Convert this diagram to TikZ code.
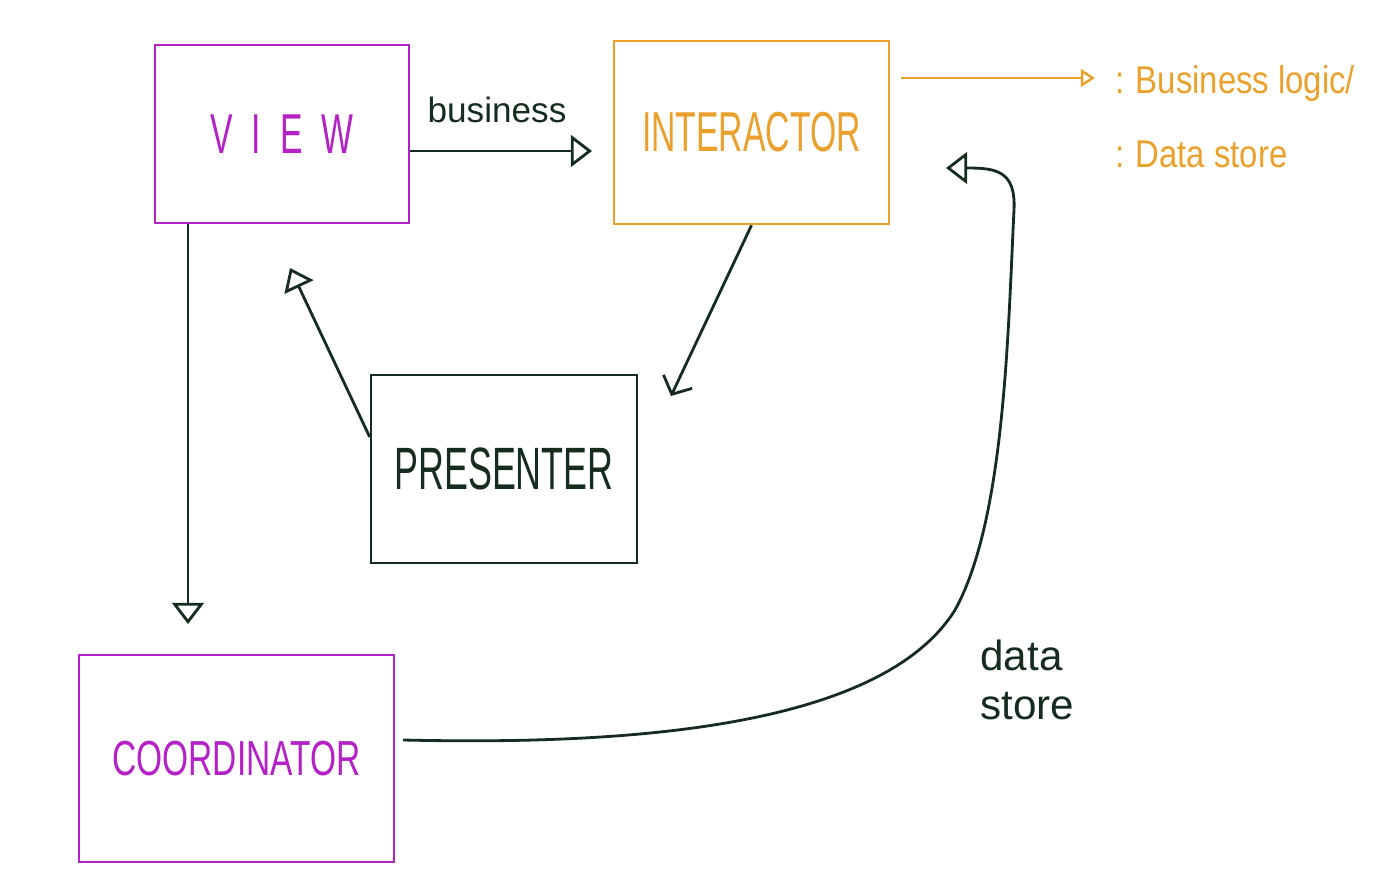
\documentclass[tikz,border=0pt]{standalone}
\usepackage{fontspec}
\setmainfont{Liberation Sans}
\usepackage{tikz}
\usetikzlibrary{arrows.meta,positioning}
\definecolor{sketchpurple}{RGB}{178,34,196}
\definecolor{sketchorange}{RGB}{234,160,45}
\definecolor{sketchink}{RGB}{22,44,30}
\newcommand{\squeeze}[2][0.6]{\scalebox{#1}[1]{#2}}
\tikzset{pbox/.style={draw=sketchpurple, line width=0.7pt, text=sketchpurple, align=center, inner sep=0pt, font=\fontsize{16}{18}\selectfont}, obox/.style={draw=sketchorange, line width=0.7pt, text=sketchorange, align=center, inner sep=0pt, font=\fontsize{16}{18}\selectfont}, kbox/.style={draw=sketchink, line width=0.7pt, text=sketchink, align=center, inner sep=0pt, font=\fontsize{17}{18}\selectfont}, edge/.style={-{Triangle[open,length=6pt,width=9pt]}, line width=0.8pt, draw=sketchink}, bedge/.style={-{Straight Barb[length=4pt,width=9pt]}, line width=0.8pt, draw=sketchink}, oedge/.style={-{Triangle[open,length=4pt,width=5pt]}, line width=0.7pt, draw=sketchorange}, note/.style={text=sketchink, align=left, font=\fontsize{12}{14}\selectfont}, onote/.style={text=sketchorange, anchor=west, inner sep=0pt, font=\fontsize{11}{13}\selectfont}}

\begin{document}
\begin{tikzpicture}[x=0.01cm,y=-0.01cm]
\useasboundingbox (0,0) rectangle (1400,891);
\node[pbox,minimum width=2.54cm,minimum height=1.78cm] (view) at (282,134) {\squeeze{V\hspace{9pt}I\hspace{9pt}E\hspace{9pt}W}};
\node[obox,minimum width=2.75cm,minimum height=1.83cm] (inter) at (751.5,132.5) {\squeeze{INTERACTOR}};
\node[kbox,minimum width=2.66cm,minimum height=1.88cm] (pres) at (504,469) {\squeeze{PRESENTER}};
\node[pbox,minimum width=3.15cm,minimum height=2.07cm,font=\fontsize{14}{16}\selectfont] (coord) at (236.5,758.5) {\squeeze[0.68]{COORDINATOR}};
\node[note,font=\fontsize{10}{12}\selectfont] (biz) at (497,110) {business};
\node[onote] (logic) at (1115,84) {\squeeze[0.85]{:\,\,Business logic/}};
\node[onote] (store) at (1115,154) {\squeeze[0.85]{:\,\,Data store}};
\node[note,anchor=west] (dstore) at (968,680) {data\\store};
\coordinate (bizend) at (592,151); \coordinate (ipend) at (671,396); \coordinate (pvend) at (290,268); \coordinate (cvend) at (188,624); \coordinate (oend) at (1095,78); \coordinate (dsstart) at (403,740); \coordinate (dsend) at (946,168);
\draw[edge] (view.east |- bizend)--(bizend); \draw[bedge] (inter.south)--(ipend); \draw[edge] ([yshift=0.32cm]pres.west)--(pvend); \draw[edge] (view.south -| cvend)--(cvend); \draw[oedge] ([xshift=0.11cm]inter.east |- oend)--(oend);
\draw[edge] (dsstart) .. controls (620,745) and (880,730) .. (955,610) .. controls (1005,520) and (1008,330) .. (1014,210) .. controls (1016,170) and (995,168) .. (dsend);
\end{tikzpicture}
\end{document}
